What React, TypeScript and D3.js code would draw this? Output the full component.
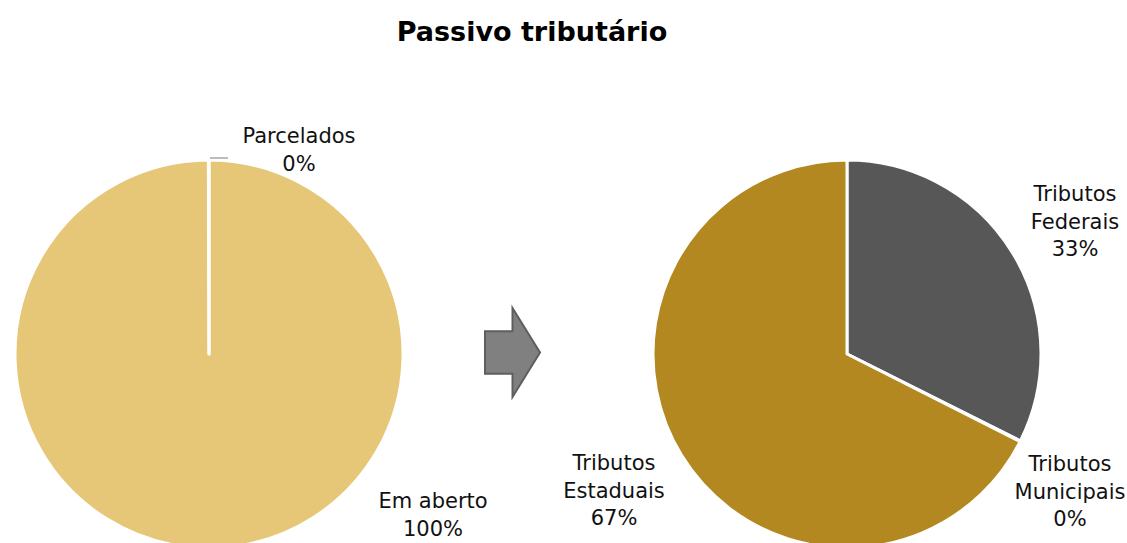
import React from 'react';
import * as d3 from 'd3';

// left pie: situação do passivo
const leftLabels = ['Em aberto', 'Parcelados'];
const leftValues = [99.95, 0.05];
const leftPct = ['100%', '0%'];

// right pie: esfera dos tributos
const rightLabels = ['Tributos Federais', 'Tributos Municipais', 'Tributos Estaduais'];
const rightValues = [32.4, 0.05, 67.55];
const rightPct = ['33%', '0%', '67%'];

const W = 1127;
const H = 543;
const R = 194;
const FONT = "'DejaVu Sans', sans-serif";

type LabelPos = { dx: number; dy: number; lines: string[] };

const Pie = ({ cx, cy, values, colors, startAt, labels }: {
  cx: number; cy: number; values: number[]; colors: string[]; startAt: number; labels: LabelPos[];
}) => {
  const pie = d3.pie<number>().sort(null).startAngle(startAt).endAngle(startAt + 2 * Math.PI);
  const arcs = pie(values);
  const arc = d3.arc<d3.PieArcDatum<number>>().innerRadius(0).outerRadius(R);
  return (
    <g transform={`translate(${cx},${cy})`}>
      {arcs.map((a, i) => (
        <path key={i} d={arc(a) || ''} fill={colors[i]} stroke="#fff" strokeWidth={3} strokeLinejoin="round" />
      ))}
      {labels.map((l, i) => (
        <text key={i} x={l.dx} y={l.dy} textAnchor="middle" fontFamily={FONT} fontSize={21} fill="#111">
          {l.lines.map((t, j) => (
            <tspan key={j} x={l.dx} dy={j === 0 ? 0 : 27.5}>{t}</tspan>
          ))}
        </text>
      ))}
    </g>
  );
};

export default function App() {
  const leftCx = 209, rightCx = 847, cy = 354;

  const leftLabelPos: LabelPos[] = [
    { dx: 224, dy: 154, lines: [leftLabels[0], leftPct[0]] },
    { dx: 90, dy: -211, lines: [leftLabels[1], leftPct[1]] },
  ];
  const rightLabelPos: LabelPos[] = [
    { dx: 228, dy: -153, lines: ['Tributos', 'Federais', rightPct[0]] },
    { dx: 223, dy: 117, lines: ['Tributos', 'Municipais', rightPct[1]] },
    { dx: -233, dy: 116, lines: ['Tributos', 'Estaduais', rightPct[2]] },
  ];

  // arrow geometry (block arrow between the pies)
  const ax = 485, ay = 308, aw = 55, ah = 89;
  const arrowPts: [number, number][] = [
    [ax, ay + ah * 0.26], [ax + aw * 0.5, ay + ah * 0.26], [ax + aw * 0.5, ay],
    [ax + aw, ay + ah * 0.5], [ax + aw * 0.5, ay + ah], [ax + aw * 0.5, ay + ah * 0.74],
    [ax, ay + ah * 0.74],
  ];

  return (
    <svg width={W} height={H} style={{ position: 'absolute', left: 0, top: 0, background: '#fff' }}>
      <text x={532} y={41} textAnchor="middle" fontFamily={FONT} fontWeight="bold" fontSize={27} fill="#000">
        Passivo tributário
      </text>

      <Pie cx={leftCx} cy={cy} values={leftValues} colors={['#E6C677', '#E6C677']} startAt={0.0}
        labels={leftLabelPos} />
      {/* leader line for Parcelados */}
      <line x1={leftCx + 1} y1={cy - R - 2} x2={leftCx + 19} y2={cy - R - 2} stroke="#A6A6A6" strokeWidth={1.5} />

      <Pie cx={rightCx} cy={cy} values={rightValues} colors={['#575757', '#575757', '#B38820']} startAt={0}
        labels={rightLabelPos} />

      <polygon points={arrowPts.map(p => p.join(',')).join(' ')} fill="#808080" stroke="#5E5E5E" strokeWidth={2} />
    </svg>
  );
}
